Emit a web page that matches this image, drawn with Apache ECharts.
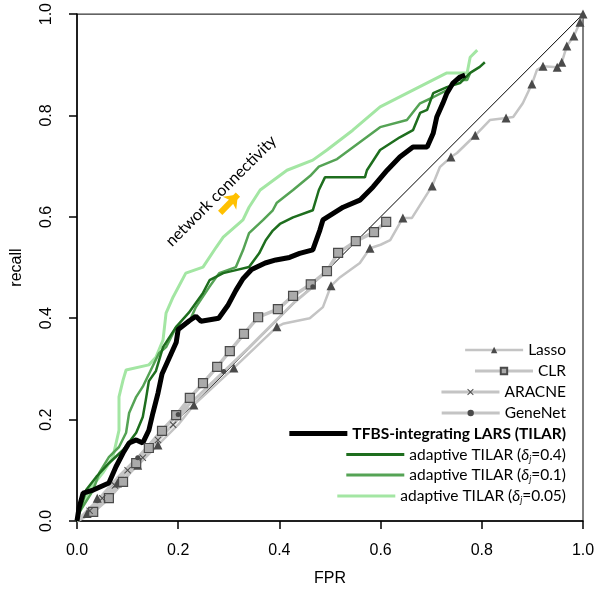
<!DOCTYPE html>
<html>
<head>
<meta charset="utf-8">
<script src="https://cdn.jsdelivr.net/npm/echarts@6/dist/echarts.min.js"></script>
<style>
  html, body { margin: 0; padding: 0; background: #fff; }
  #chart { width: 600px; height: 600px; }
</style>
</head>
<body>
<div id="chart"></div>
<script>
// values (FPR, recall)
const diagonal = [[0, 0], [1, 1]];

const lassoCurve = [[0,0],[0.02,0.015],[0.05,0.04],[0.08,0.07],[0.12,0.11],[0.16,0.15],[0.2,0.19],[0.231,0.229],[0.27,0.265],[0.31,0.302],[0.35,0.34],[0.395,0.383],[0.407,0.389],[0.46,0.4],[0.486,0.422],[0.502,0.464],[0.52,0.481],[0.559,0.509],[0.579,0.538],[0.6,0.545],[0.619,0.554],[0.644,0.598],[0.662,0.598],[0.702,0.661],[0.717,0.698],[0.739,0.718],[0.751,0.726],[0.787,0.761],[0.816,0.791],[0.848,0.795],[0.862,0.797],[0.881,0.824],[0.899,0.862],[0.909,0.89],[0.921,0.897],[0.949,0.895],[0.958,0.905],[0.968,0.937],[0.982,0.957],[0.994,0.984],[1,1]];
const lassoMarks = [[0.02,0.015],[0.04,0.045],[0.08,0.075],[0.12,0.11],[0.16,0.15],[0.231,0.229],[0.31,0.302],[0.395,0.383],[0.502,0.464],[0.579,0.538],[0.644,0.598],[0.702,0.661],[0.739,0.718],[0.787,0.761],[0.848,0.795],[0.899,0.862],[0.921,0.897],[0.949,0.895],[0.958,0.905],[0.968,0.937],[0.982,0.957],[0.994,0.984],[1,1]];

const clrCurve = [[0,0],[0.032,0.018],[0.063,0.045],[0.091,0.077],[0.117,0.114],[0.142,0.144],[0.168,0.178],[0.196,0.209],[0.223,0.243],[0.249,0.272],[0.277,0.304],[0.302,0.335],[0.33,0.369],[0.358,0.402],[0.397,0.418],[0.427,0.444],[0.462,0.467],[0.494,0.493],[0.516,0.529],[0.551,0.552],[0.587,0.57],[0.611,0.59]];
const clrMarks = [[0.032,0.018],[0.063,0.045],[0.091,0.077],[0.117,0.114],[0.142,0.144],[0.168,0.178],[0.196,0.209],[0.223,0.243],[0.249,0.272],[0.277,0.304],[0.302,0.335],[0.33,0.369],[0.358,0.402],[0.397,0.418],[0.427,0.444],[0.462,0.467],[0.494,0.493],[0.516,0.529],[0.551,0.552],[0.587,0.57],[0.611,0.59]];

const aracneCurve = [[0,0],[0.025,0.02],[0.05,0.045],[0.075,0.07],[0.1,0.1],[0.13,0.125],[0.16,0.16],[0.19,0.19],[0.22,0.225]];
const aracneMarks = [[0.025,0.02],[0.05,0.045],[0.075,0.07],[0.1,0.1],[0.13,0.125],[0.16,0.16],[0.19,0.19]];

const geneNetCurve = [[0,0],[0.04,0.04],[0.08,0.085],[0.12,0.125],[0.16,0.17],[0.2,0.21],[0.243,0.25],[0.29,0.295],[0.34,0.342],[0.39,0.392],[0.43,0.432],[0.466,0.462]];
const geneNetMarks = [[0.04,0.04],[0.12,0.125],[0.2,0.21],[0.29,0.295],[0.466,0.462]];

const tilar = [[0,0],[0.004,0.026],[0.012,0.055],[0.032,0.061],[0.063,0.075],[0.077,0.107],[0.091,0.134],[0.103,0.154],[0.117,0.16],[0.13,0.154],[0.142,0.179],[0.15,0.213],[0.16,0.252],[0.168,0.29],[0.186,0.33],[0.196,0.352],[0.2,0.378],[0.222,0.395],[0.235,0.404],[0.245,0.394],[0.28,0.4],[0.298,0.425],[0.314,0.455],[0.328,0.478],[0.345,0.496],[0.372,0.509],[0.393,0.515],[0.42,0.52],[0.44,0.528],[0.466,0.535],[0.48,0.574],[0.486,0.594],[0.526,0.619],[0.559,0.633],[0.585,0.659],[0.613,0.692],[0.638,0.718],[0.664,0.738],[0.692,0.738],[0.704,0.765],[0.711,0.797],[0.723,0.824],[0.731,0.844],[0.743,0.864],[0.757,0.876],[0.767,0.88]];

const adaptive04 = [[0,0],[0.018,0.061],[0.038,0.087],[0.063,0.114],[0.091,0.14],[0.117,0.174],[0.13,0.205],[0.136,0.239],[0.142,0.276],[0.156,0.296],[0.17,0.343],[0.196,0.383],[0.221,0.411],[0.249,0.45],[0.262,0.475],[0.289,0.489],[0.314,0.495],[0.34,0.501],[0.36,0.528],[0.373,0.554],[0.387,0.573],[0.401,0.586],[0.427,0.599],[0.466,0.613],[0.478,0.653],[0.49,0.678],[0.538,0.678],[0.569,0.678],[0.573,0.692],[0.599,0.732],[0.638,0.757],[0.664,0.771],[0.678,0.805],[0.692,0.811],[0.704,0.844],[0.731,0.856],[0.757,0.864],[0.777,0.884],[0.796,0.896],[0.806,0.905]];

const adaptive01 = [[0,0],[0.004,0.016],[0.032,0.061],[0.044,0.095],[0.063,0.126],[0.083,0.146],[0.097,0.174],[0.103,0.213],[0.117,0.245],[0.13,0.265],[0.162,0.331],[0.176,0.343],[0.196,0.383],[0.221,0.391],[0.235,0.422],[0.261,0.461],[0.281,0.489],[0.314,0.501],[0.328,0.534],[0.34,0.568],[0.368,0.594],[0.387,0.613],[0.395,0.628],[0.427,0.653],[0.461,0.681],[0.478,0.699],[0.514,0.714],[0.599,0.777],[0.652,0.791],[0.678,0.824],[0.704,0.836],[0.731,0.85],[0.751,0.87],[0.771,0.87],[0.777,0.884]];

const adaptive005 = [[0,0],[0.004,0.016],[0.024,0.061],[0.051,0.095],[0.071,0.126],[0.083,0.179],[0.083,0.245],[0.091,0.278],[0.097,0.298],[0.142,0.308],[0.156,0.323],[0.17,0.357],[0.176,0.41],[0.19,0.442],[0.215,0.489],[0.249,0.501],[0.275,0.54],[0.289,0.56],[0.328,0.594],[0.34,0.619],[0.362,0.653],[0.415,0.692],[0.466,0.712],[0.494,0.732],[0.545,0.771],[0.599,0.817],[0.664,0.85],[0.731,0.884],[0.771,0.884],[0.777,0.915],[0.791,0.929]];

const arrowFrom = [0.283, 0.608];
const arrowTo = [0.318, 0.644];

const legendNames = ['Lasso', 'CLR', 'ARACNE', 'GeneNet', 'TFBS-integrating LARS (TILAR)',
  'adaptive TILAR (δj=0.4)', 'adaptive TILAR (δj=0.1)', 'adaptive TILAR (δj=0.05)'];

const GREY = '#c4c4c4';
const MARK = '#4a4a4a';
const crossPath = 'path://M1,0L5,4L9,0L10,1L6,5L10,9L9,10L5,6L1,10L0,9L4,5L0,1Z';

const chart = echarts.init(document.getElementById('chart'));

function curve(name, data, color, width, symbol, extra) {
  return Object.assign({
    name: name, type: 'line', data: data, showSymbol: false,
    symbol: symbol || 'none', symbolSize: 8,
    lineStyle: { color: color, width: width },
    itemStyle: { color: color },
    emphasis: { disabled: true }, z: 2
  }, extra || {});
}
function marks(data, symbol, size, fill, border) {
  return {
    type: 'scatter', data: data, symbol: symbol, symbolSize: size,
    itemStyle: { color: fill, borderColor: border || fill, borderWidth: border ? 1.2 : 0, opacity: 1 },
    emphasis: { disabled: true }, z: 3
  };
}

const legendFont = 'Lato';
const legendRows = [350, 371, 392, 413, 433.5, 454.5, 475, 496];
const legendLineW = [2.5, 3, 3, 3, 5, 3, 3, 3];
const legends = legendNames.map((n, i) => ({
  data: [n], orient: 'horizontal', right: 34, top: legendRows[i] - 8,
  padding: 0, itemWidth: 58, itemHeight: 8, itemGap: 0, selectedMode: false,
  lineStyle: { width: legendLineW[i] },
  itemStyle: i >= 4 ? { opacity: 0 } : {},
  textStyle: {
    fontFamily: legendFont, fontSize: 15.5, color: '#000',
    fontWeight: i === 4 ? 'bold' : 'normal',
    rich: {
      n: { fontFamily: legendFont, fontSize: 15.5, color: '#000', lineHeight: 18 },
      d: { fontFamily: legendFont, fontSize: 15.5, color: '#000', fontStyle: 'italic', lineHeight: 18 },
      s: { fontFamily: legendFont, fontSize: 9, color: '#000', fontStyle: 'italic', verticalAlign: 'bottom', lineHeight: 18 }
    }
  },
  formatter: function (name) {
    const m = name.match(/^(.*)\(δj=([\d.]+)\)$/);
    if (!m) return name;
    return '{n|' + m[1] + '(}{d|δ}{s|j}{n|=' + m[2] + ')}';
  }
}));

const axisFont = { fontFamily: 'Liberation Sans', fontSize: 16, color: '#000' };

chart.setOption({
  animation: false,
  backgroundColor: '#fff',
  grid: { left: 77, right: 17, top: 14, bottom: 79, show: true, borderColor: '#000', borderWidth: 1 },
  legend: legends,
  xAxis: {
    type: 'value', min: 0, max: 1, interval: 0.2,
    name: 'FPR', nameLocation: 'middle', nameGap: 50,
    nameTextStyle: Object.assign({}, axisFont),
    axisLine: { show: true, lineStyle: { color: '#000', width: 1.5 } },
    axisTick: { show: true, length: 8, lineStyle: { color: '#000', width: 1.5 } },
    axisLabel: Object.assign({ margin: 22, formatter: v => v.toFixed(1) }, axisFont),
    splitLine: { show: false }
  },
  yAxis: {
    type: 'value', min: 0, max: 1, interval: 0.2,
    name: 'recall', nameLocation: 'middle', nameGap: 52,
    nameTextStyle: Object.assign({}, axisFont),
    axisLine: { show: true, lineStyle: { color: '#000', width: 1.5 } },
    axisTick: { show: true, length: 8, lineStyle: { color: '#000', width: 1.5 } },
    axisLabel: Object.assign({ margin: 22, rotate: 90, formatter: v => v.toFixed(1) }, axisFont),
    splitLine: { show: false }
  },
  graphic: [{
    type: 'text', x: 221, y: 191, rotation: Math.PI / 4,
    style: { text: 'network connectivity', fill: '#000', font: '16px Lato', align: 'center', verticalAlign: 'middle' }
  }],
  series: [
    {
      type: 'line', data: diagonal, symbol: 'none', silent: true,
      lineStyle: { color: '#000', width: 1 }, z: 1,
      markLine: {
        silent: true, symbol: ['none', 'arrow'], symbolSize: [14, 12],
        label: { show: false },
        lineStyle: { color: '#ffc000', width: 6, type: 'solid' },
        data: [[{ coord: arrowFrom }, { coord: arrowTo }]]
      }
    },
    curve('Lasso', lassoCurve, GREY, 2.5, 'triangle', { itemStyle: { color: MARK } }),
    marks(lassoMarks, 'triangle', 9, MARK),
    curve('CLR', clrCurve, GREY, 3.5, 'rect', { itemStyle: { color: '#aaaaaa', borderColor: MARK, borderWidth: 1.2 } }),
    marks(clrMarks, 'rect', 9, '#aaaaaa', MARK),
    curve('ARACNE', aracneCurve, GREY, 3, crossPath, { itemStyle: { color: MARK } }),
    marks(aracneMarks, crossPath, 7, MARK),
    curve('GeneNet', geneNetCurve, GREY, 3, 'circle', { itemStyle: { color: MARK } }),
    marks(geneNetMarks, 'circle', 5, MARK),
    curve('adaptive TILAR (δj=0.05)', adaptive005, '#a3e6a3', 3),
    curve('adaptive TILAR (δj=0.1)', adaptive01, '#55a355', 2.5),
    curve('adaptive TILAR (δj=0.4)', adaptive04, '#1e6e1e', 2.5),
    curve('TFBS-integrating LARS (TILAR)', tilar, '#000000', 5)
  ]
});
</script>
</body>
</html>
